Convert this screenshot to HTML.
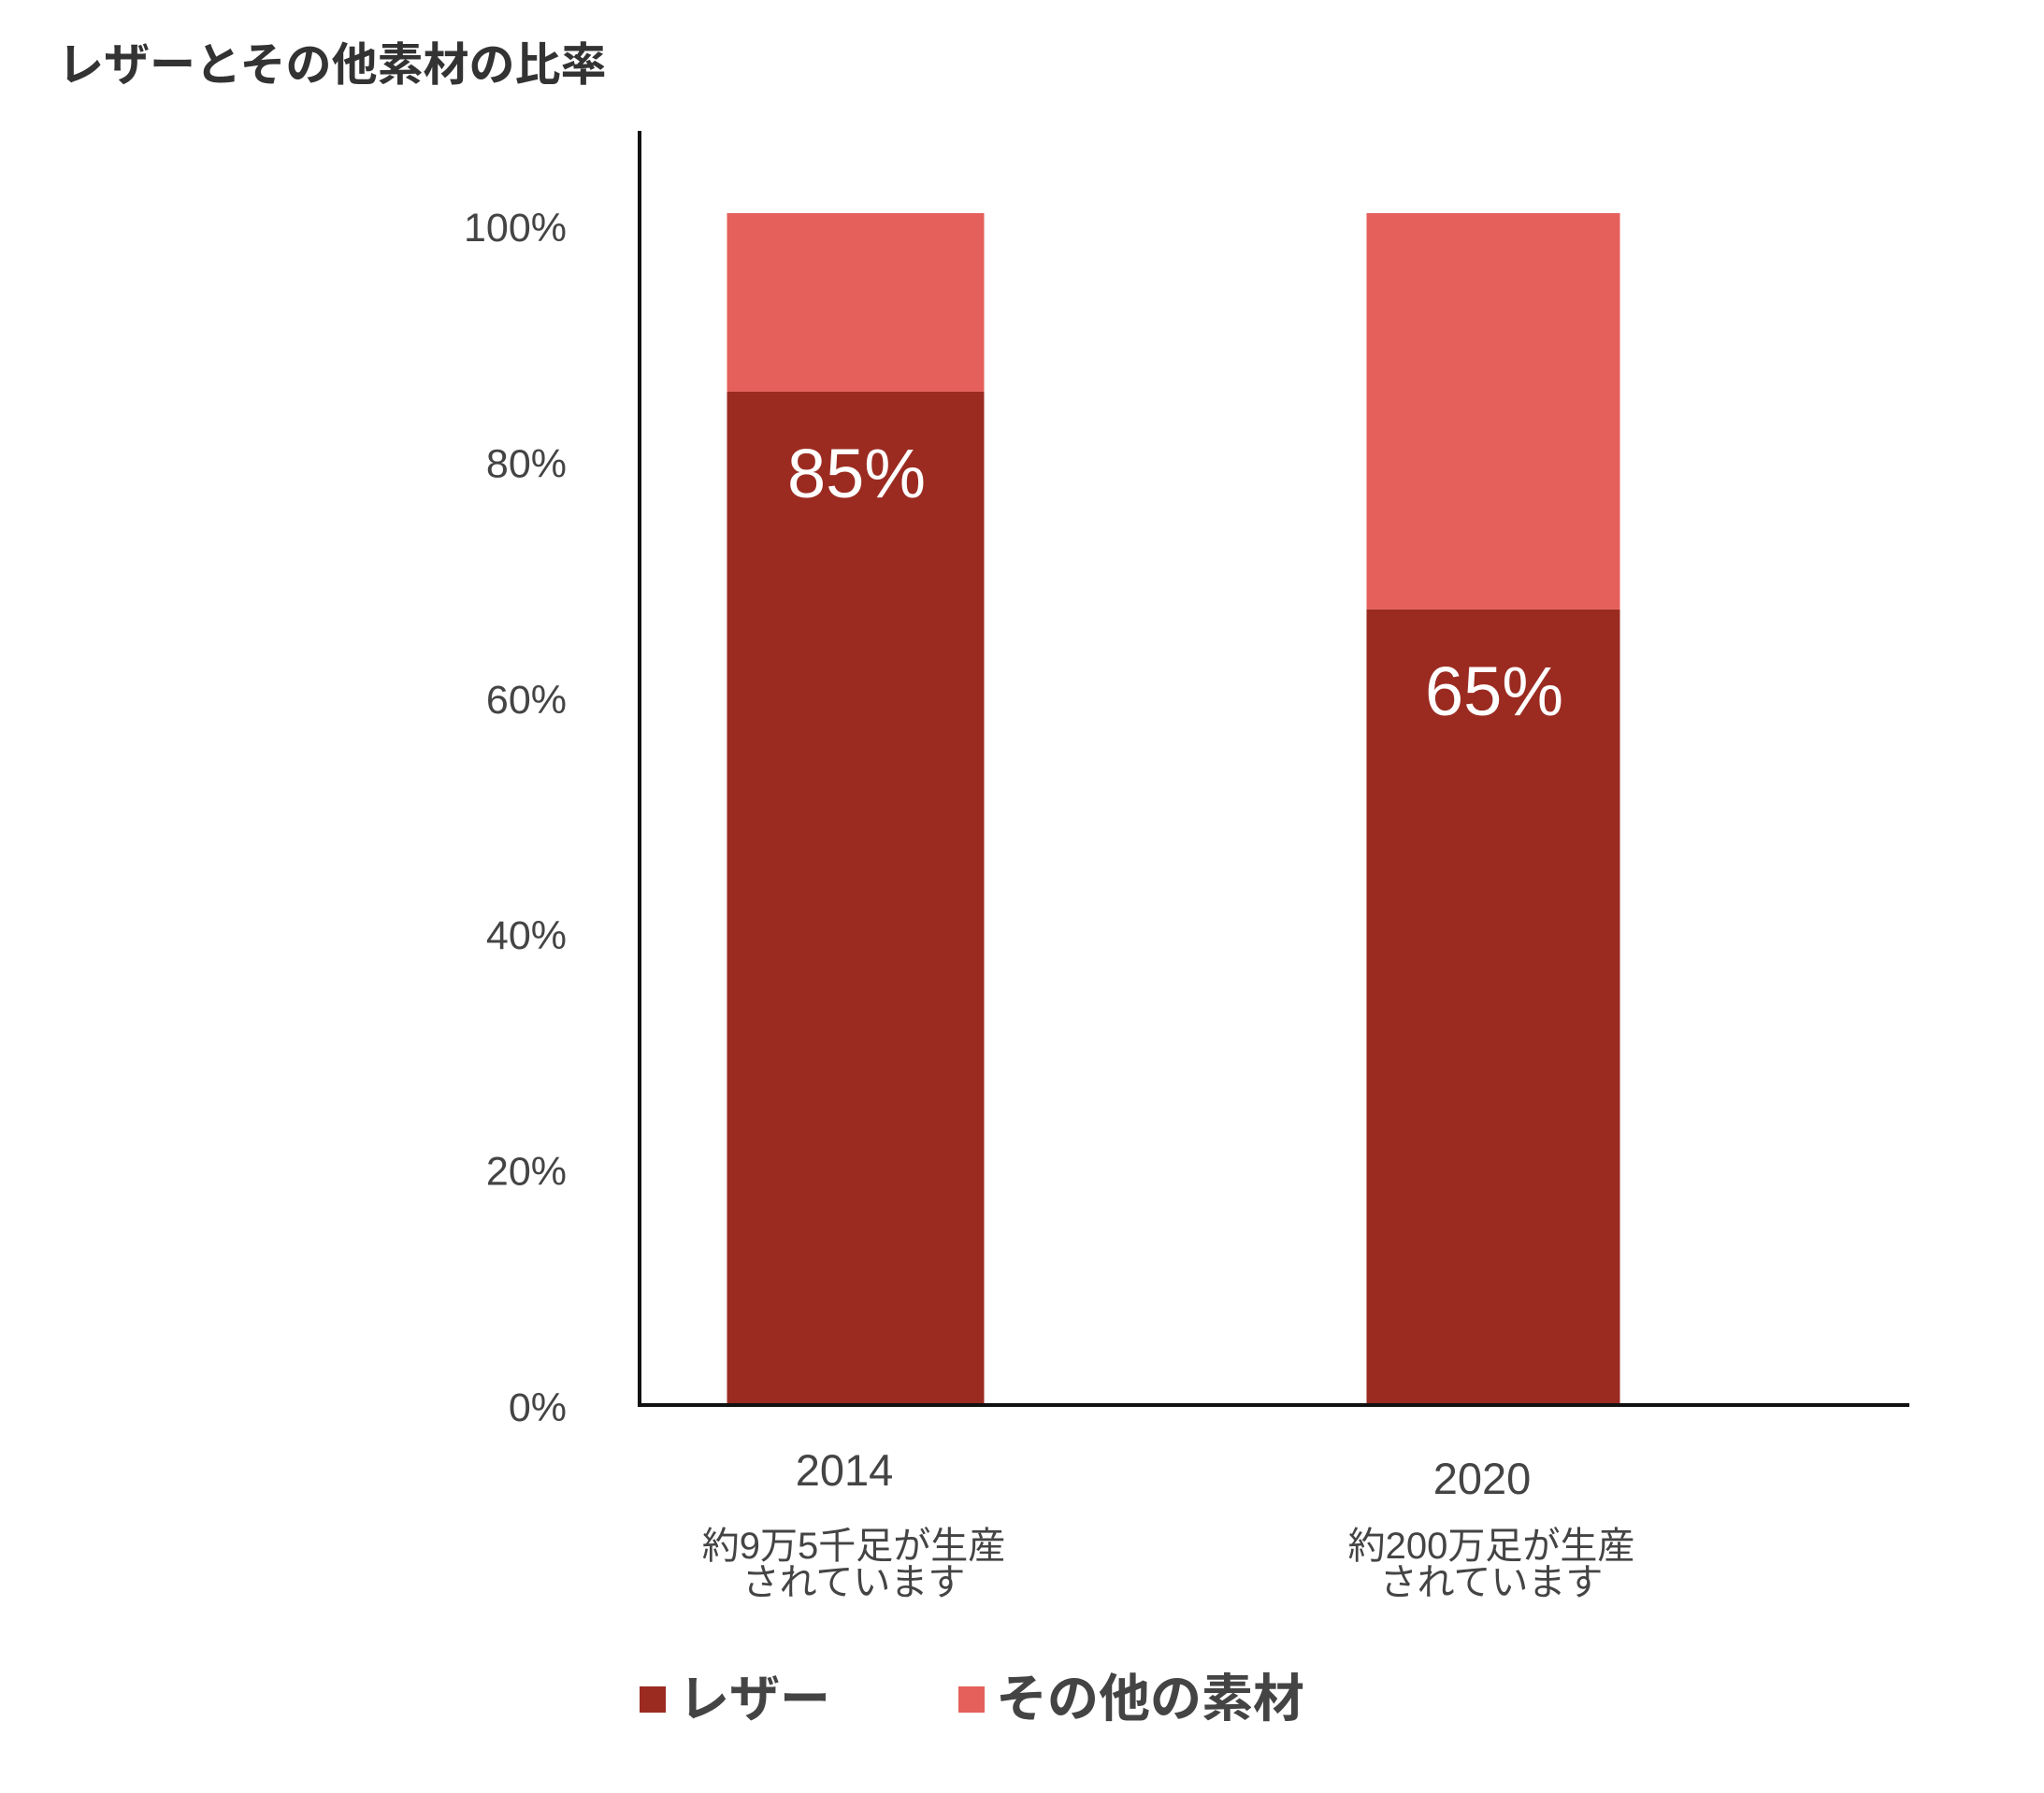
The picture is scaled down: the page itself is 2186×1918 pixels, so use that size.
<!DOCTYPE html>
<html><head><meta charset="utf-8"><style>
html,body{margin:0;padding:0;background:#fff;}
svg{display:block;}
text{font-family:"Liberation Sans","Noto Sans CJK JP",sans-serif;}
</style></head><body>
<svg id="chart" width="2186" height="1918" viewBox="0 0 2186 1918" xmlns="http://www.w3.org/2000/svg">
<text x="62" y="86" font-size="49" font-weight="bold" fill="#333">レザーとその他素材の比率</text>
<line x1="684" y1="140" x2="684" y2="1505" stroke="#111" stroke-width="4"/>
<line x1="682" y1="1503" x2="2042" y2="1503" stroke="#111" stroke-width="4"/>
<g id="bars"></g>
<g id="ticks"></g>
<g id="xlabels"></g>
<g>
<rect x="684" y="1804" width="28" height="28" fill="#9b2b21"/>
<text x="726" y="1836" font-size="54" font-weight="bold" fill="#444">レザー</text>
<rect x="1025" y="1804" width="28" height="28" fill="#e5605a"/>
<text x="1065" y="1836" font-size="55" font-weight="bold" fill="#444">その他の素材</text>
</g>
</svg>
<script>
const categories = ["2014", "2020"];
const subLabels1 = ["約9万5千足が生産", "約200万足が生産"];
const subLabels2 = ["されています", "されています"];
const leatherValues = [85, 66.7];
const otherValues = [15, 33.3];
const valueLabels = ["85%", "65%"];
const tickValues = [0, 20, 40, 60, 80, 100];
const tickLabels = ["0%", "20%", "40%", "60%", "80%", "100%"];

const NS = "http://www.w3.org/2000/svg";
const barBase = 1501, barPerUnit = 12.73;
function yBar(v){ return barBase - v * barPerUnit; }
function yTick(v){ return 1505 - v * 12.62; }
const barCenters = [915, 1597];
const barWidths = [275, 271];
function xCenter(i){ return barCenters[i]; }
function mk(tag, attrs){ const e = document.createElementNS(NS, tag); for (const k in attrs) e.setAttribute(k, attrs[k]); return e; }

const gb = document.getElementById("bars");
categories.forEach((c, i) => {
  const w = barWidths[i], x = xCenter(i) - w / 2;
  const l = leatherValues[i], o = otherValues[i];
  const r1 = mk("rect", {x: x, y: yBar(l), width: w, height: yBar(0) - yBar(l), fill: "#9b2b21"});
  
  
  gb.appendChild(r1);
  const r2 = mk("rect", {x: x, y: yBar(l + o), width: w, height: yBar(l) - yBar(l + o), fill: "#e5605a"});
  
  
  gb.appendChild(r2);
  const t = mk("text", {x: xCenter(i) + 1, y: yBar(l) + 113, "font-size": 74, fill: "#fff", "text-anchor": "middle"});
  t.textContent = valueLabels[i];
  
  
  gb.appendChild(t);
});

const gt = document.getElementById("ticks");
tickValues.forEach((v, i) => {
  const t = mk("text", {x: 606, y: yTick(v) + 15, "font-size": 43, fill: "#444", "text-anchor": "end"});
  t.textContent = tickLabels[i];
  
  
  gt.appendChild(t);
});

const gx = document.getElementById("xlabels");
const yearY = [1589, 1598];
categories.forEach((c, i) => {
  const t = mk("text", {x: xCenter(i) - 12, y: yearY[i], "font-size": 47, fill: "#444", "text-anchor": "middle"});
  t.textContent = c;
  
  
  gx.appendChild(t);
  const s1 = mk("text", {x: xCenter(i) - 2, y: 1667, "font-size": 40, fill: "#444", "text-anchor": "middle"});
  s1.textContent = subLabels1[i];
  
  
  gx.appendChild(s1);
  const s2 = mk("text", {x: xCenter(i) - 2, y: 1706, "font-size": 40, fill: "#444", "text-anchor": "middle"});
  s2.textContent = subLabels2[i];
  
  
  gx.appendChild(s2);
});
</script>
</body></html>
